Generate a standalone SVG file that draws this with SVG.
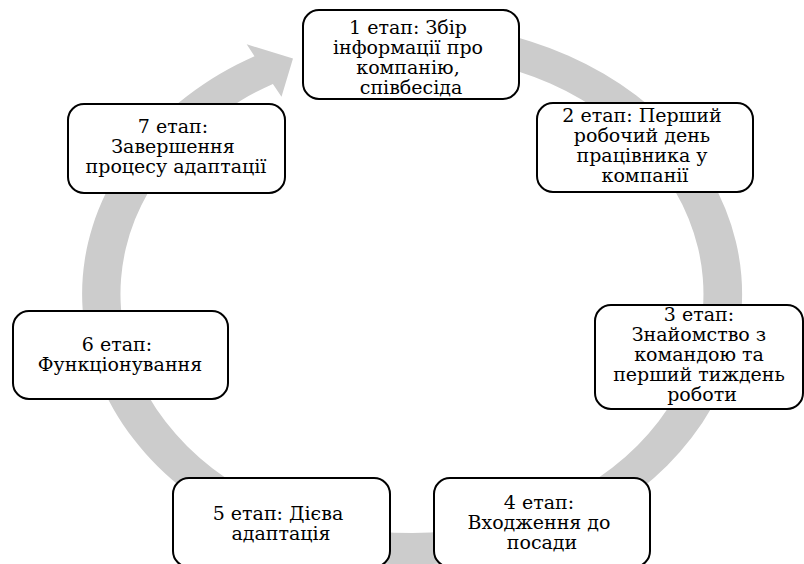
<svg xmlns="http://www.w3.org/2000/svg" width="804" height="564" viewBox="0 0 804 564">
  <style>
    .box { fill: #ffffff; stroke: #000000; stroke-width: 2; }
    .lbl { font-family: 'DejaVu Serif', 'Liberation Serif', serif; font-size: 19px; fill: #000000; text-anchor: middle; }
    .ring { fill: #cccccc; stroke: none; }
  </style>
  <rect width="804" height="564" fill="#ffffff"/>

  <!-- cycle arrow: circular band squashed vertically, head at upper left -->
  <g id="connectors">
    <g transform="translate(412 294) scale(1 0.82)">
      <path class="ring" d="M -85.4 -318.8 A 330 330 0 1 1 -157.5 -290.0 L -165.3 -304.5 L -119.0 -287.3 L -130.5 -240.4 L -139.1 -256.2 A 291.5 291.5 0 1 0 -75.4 -281.6 Z"/>
    </g>
  </g>

  <g id="stage1">
    <rect class="box" x="303" y="10" width="216" height="89" rx="16"/>
    <text class="lbl" transform="translate(411 0)">
      <tspan x="0" y="33.5">1 етап: Збір</tspan>
      <tspan x="0" y="53.5">інформації про</tspan>
      <tspan x="0" y="73.5">компанію,</tspan>
      <tspan x="0" y="93.5">співбесіда</tspan>
    </text>
  </g>

  <g id="stage2">
    <rect class="box" x="537" y="103" width="216" height="89" rx="16"/>
    <text class="lbl" transform="translate(645 0)">
      <tspan x="0" y="122">2 етап: Перший</tspan>
      <tspan x="0" y="142">робочий день</tspan>
      <tspan x="0" y="162">працівника у</tspan>
      <tspan x="0" y="182">компанії</tspan>
    </text>
  </g>

  <g id="stage3">
    <rect class="box" x="595" y="305" width="208" height="104" rx="16"/>
    <text class="lbl" transform="translate(702 0)">
      <tspan x="0" y="321">3 етап:</tspan>
      <tspan x="0" y="341">Знайомство з</tspan>
      <tspan x="0" y="361">командою та</tspan>
      <tspan x="0" y="381">перший тиждень</tspan>
      <tspan x="0" y="401">роботи</tspan>
    </text>
  </g>

  <g id="stage4">
    <rect class="box" x="434" y="478" width="216" height="89" rx="16"/>
    <text class="lbl" transform="translate(542 0)">
      <tspan x="0" y="509">4 етап:</tspan>
      <tspan x="0" y="529">Входження до</tspan>
      <tspan x="0" y="549">посади</tspan>
    </text>
  </g>

  <g id="stage5">
    <rect class="box" x="173" y="478" width="217" height="89" rx="16"/>
    <text class="lbl" transform="translate(281 0)">
      <tspan x="0" y="520">5 етап: Дієва</tspan>
      <tspan x="0" y="540">адаптація</tspan>
    </text>
  </g>

  <g id="stage6">
    <rect class="box" x="13" y="311" width="215" height="88" rx="16"/>
    <text class="lbl" transform="translate(120 0)">
      <tspan x="0" y="351">6 етап:</tspan>
      <tspan x="0" y="371">Функціонування</tspan>
    </text>
  </g>

  <g id="stage7">
    <rect class="box" x="68" y="104" width="217" height="89" rx="16"/>
    <text class="lbl" transform="translate(176 0)">
      <tspan x="0" y="133">7 етап:</tspan>
      <tspan x="0" y="153">Завершення</tspan>
      <tspan x="0" y="173">процесу адаптації</tspan>
    </text>
  </g>
</svg>
